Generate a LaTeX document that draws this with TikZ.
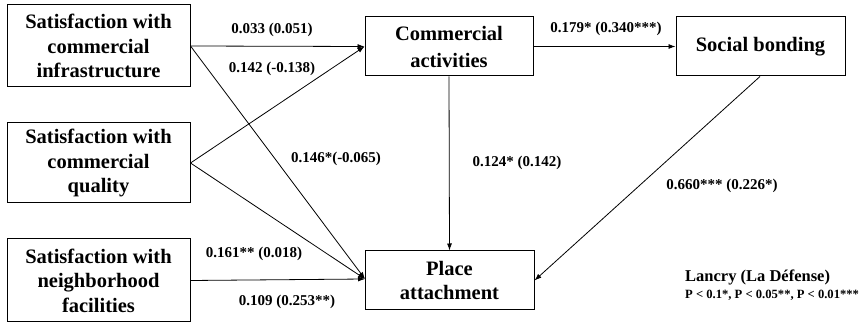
\documentclass[tikz,border=0pt]{standalone}
\usepackage{fontspec}
\setmainfont{Liberation Serif}
\usetikzlibrary{arrows.meta}
\begin{document}
\begin{tikzpicture}[x=1pt,y=-1pt,
  box/.style={draw,line width=1pt,inner sep=0pt,align=center,font=\fontsize{20.5}{24.5}\selectfont\bfseries},
  lab/.style={font=\fontsize{15}{16}\selectfont\bfseries,inner sep=0pt},
  arr/.style={-{Latex[length=7pt,width=5pt]},line width=0.8pt}]
\useasboundingbox (0,0) rectangle (863,323);
\node[box,minimum width=183pt,minimum height=82pt] (b1) at (98.5,46) {Satisfaction with\\commercial\\infrastructure};
\node[box,minimum width=183pt,minimum height=80pt] (b2) at (98.5,163) {Satisfaction with\\commercial\\quality};
\node[box,minimum width=183pt,minimum height=83pt] (b3) at (98.5,280.5) {Satisfaction with\\neighborhood\\facilities};
\node[box,minimum width=168pt,minimum height=59pt,font=\fontsize{20.5}{27}\selectfont\bfseries] (ca) at (449,46.5) {Commercial\\activities};
\node[box,minimum width=169pt,minimum height=59pt] (sb) at (760.5,46.5) {Social bonding};
\node[box,minimum width=169pt,minimum height=59pt] (pa) at (449.5,280.5) {Place\\attachment};
\coordinate (pain) at (365,279);
\draw[arr] (b1.east) -- (ca.west);
\draw[arr] (b1.east) -- (pain);
\draw[arr] (b2.east) -- (ca.west);
\draw[arr] (b2.east) -- (pain);
\draw[arr] (b3.east) -- (pain);
\draw[arr] (ca.east) -- (sb.west);
\draw[arr] (ca.south) -- (pa.north);
\coordinate (sbo) at (760,76.5);
\draw[arr] (sbo) -- (pa.east);
\node[lab] (l1) at (272,30) {0.033 (0.051)};
\node[lab] (l2) at (272,69) {0.142 (-0.138)};
\node[lab] (l3) at (336,159) {0.146*(-0.065)};
\node[lab] (l4) at (517,163) {0.124* (0.142)};
\node[lab] (l5) at (606,29) {0.179* (0.340***)};
\node[lab] (l6) at (722,186) {0.660*** (0.226*)};
\node[lab] (l7) at (254,254) {0.161** (0.018)};
\node[lab] (l8) at (287,302) {0.109 (0.253**)};
\node[lab,anchor=west,font=\fontsize{16.5}{17}\selectfont\bfseries] (lg1) at (685,277) {Lancry (La Défense)};
\node[lab,anchor=west,font=\fontsize{12.6}{14}\selectfont\bfseries] (lg2) at (685,295) {P < 0.1*, P < 0.05**, P < 0.01***};
\end{tikzpicture}
\end{document}
